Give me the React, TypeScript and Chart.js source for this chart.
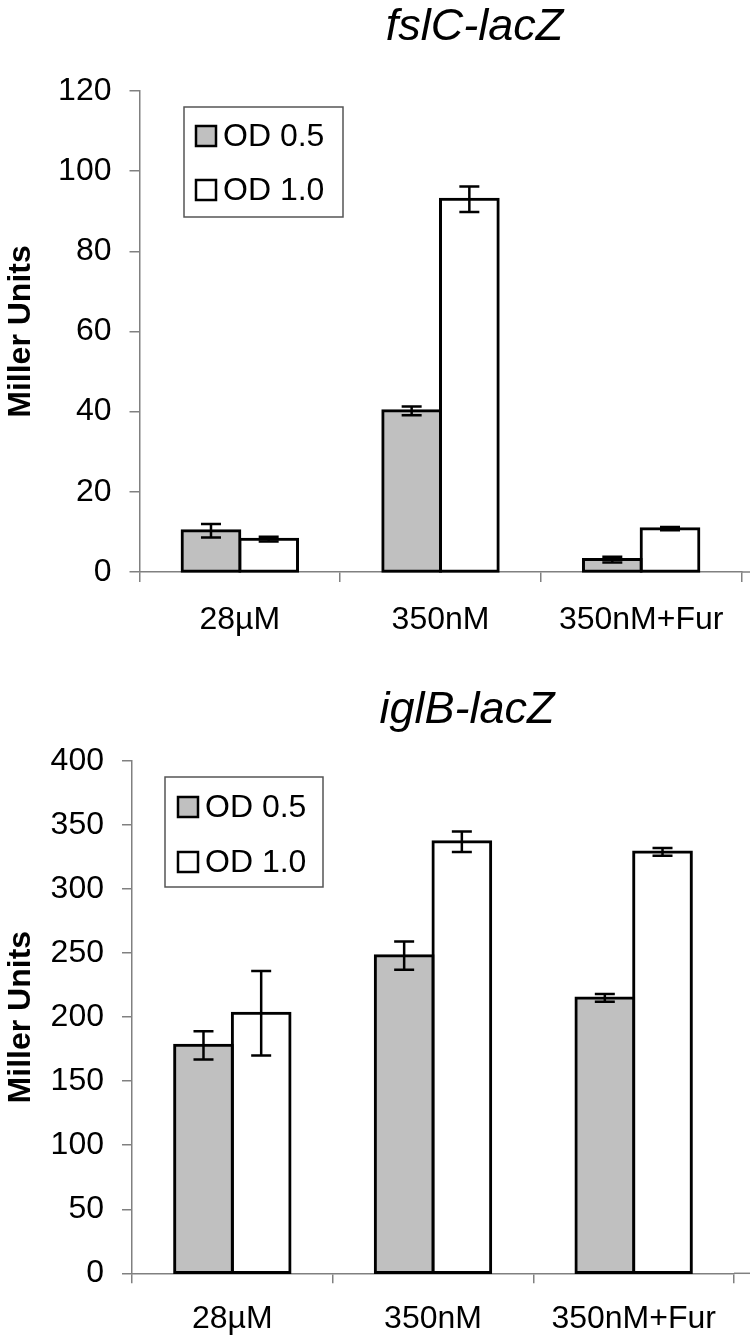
import React, { useEffect, useRef } from "react";
import { Chart, registerables } from "chart.js";

Chart.register(...registerables);

// ---- data ----
const categories = ["28µM", "350nM", "350nM+Fur"];
const seriesLabels = ["OD 0.5", "OD 1.0"];
const yAxisTitle = "Miller Units";

const fslcTitle = "fslC-lacZ";
const fslcOD05 = [10.3, 40.2, 3.1];
const fslcOD05Err = [1.7, 1.1, 0.7];
const fslcOD10 = [8.2, 93.0, 10.8];
const fslcOD10Err = [0.6, 3.2, 0.4];
const fslcYMax = 120;
const fslcYStep = 20;

const iglbTitle = "iglB-lacZ";
const iglbOD05 = [178, 248, 215];
const iglbOD05Err = [11, 11, 3];
const iglbOD10 = [203, 337, 329];
const iglbOD10Err = [33, 8, 3];
const iglbYMax = 400;
const iglbYStep = 50;

// ---- styles ----
const FONT = "'Liberation Sans', Arial, sans-serif";
const GREY = "#c0c0c0";
const AXIS = "#808080";

const errorBarPlugin = {
  id: "errorBars",
  afterDatasetsDraw(chart: any) {
    const ctx = chart.ctx;
    const y = chart.scales.y;
    ctx.save();
    ctx.strokeStyle = "#000";
    ctx.lineWidth = 2.5;
    chart.data.datasets.forEach((ds: any, i: number) => {
      const meta = chart.getDatasetMeta(i);
      meta.data.forEach((el: any, j: number) => {
        const v = ds.data[j];
        const e = ds.errors[j];
        const yt = y.getPixelForValue(v + e);
        const yb = y.getPixelForValue(v - e);
        const x = el.x;
        const cap = 10;
        ctx.beginPath();
        ctx.moveTo(x, yt);
        ctx.lineTo(x, yb);
        ctx.moveTo(x - cap, yt);
        ctx.lineTo(x + cap, yt);
        ctx.moveTo(x - cap, yb);
        ctx.lineTo(x + cap, yb);
        ctx.stroke();
      });
    });
    ctx.restore();
  },
};

const axisExtendPlugin = {
  id: "axisExtend",
  beforeDatasetsDraw(chart: any) {
    const ctx = chart.ctx;
    const ca = chart.chartArea;
    ctx.save();
    ctx.strokeStyle = AXIS;
    ctx.lineWidth = 1.5;
    ctx.beginPath();
    ctx.moveTo(ca.right, ca.bottom);
    ctx.lineTo(chart.width, ca.bottom);
    ctx.stroke();
    ctx.restore();
  },
};

const boxLegendPlugin = {
  id: "boxLegend",
  afterDraw(chart: any, _args: any, opts: any) {
    const ctx = chart.ctx;
    const ca = chart.chartArea;
    const bx = ca.left + opts.dx;
    const by = ca.top + opts.dy;
    ctx.save();
    ctx.fillStyle = "#fff";
    ctx.fillRect(bx, by, opts.w, opts.h);
    ctx.strokeStyle = "#555";
    ctx.lineWidth = 1.5;
    ctx.strokeRect(bx, by, opts.w, opts.h);
    chart.data.datasets.forEach((ds: any, i: number) => {
      const cy = by + opts.rows[i];
      const sx = bx + opts.sx;
      ctx.fillStyle = ds.backgroundColor;
      ctx.fillRect(sx, cy - 10, 20, 20);
      ctx.strokeStyle = "#000";
      ctx.lineWidth = 2.5;
      ctx.strokeRect(sx, cy - 10, 20, 20);
      ctx.fillStyle = "#000";
      ctx.font = `32px ${FONT}`;
      ctx.textAlign = "left";
      ctx.textBaseline = "middle";
      ctx.fillText(ds.label, sx + 27, cy + 1);
    });
    ctx.restore();
  },
};

const titlePlugin = {
  id: "sideTitle",
  afterDraw(chart: any, _args: any, opts: any) {
    const ctx = chart.ctx;
    const ca = chart.chartArea;
    ctx.save();
    ctx.fillStyle = "#000";
    ctx.font = `italic 45px ${FONT}`;
    ctx.textAlign = "center";
    ctx.textBaseline = "alphabetic";
    ctx.fillText(opts.text, (ca.left + ca.right) / 2 + opts.dx, ca.top - opts.gap);
    ctx.restore();
  },
};

function makeConfig(p: any): any {
  const barStyle = {
    borderColor: "#000",
    borderWidth: 3,
    borderSkipped: false,
    inflateAmount: 1.5,
    clip: false,
  };
  return {
    type: "bar",
    data: {
      labels: categories,
      datasets: [
        { label: seriesLabels[0], data: p.a, errors: p.aErr, backgroundColor: GREY, ...barStyle },
        { label: seriesLabels[1], data: p.b, errors: p.bErr, backgroundColor: "#ffffff", ...barStyle },
      ],
    },
    options: {
      responsive: false,
      animation: false,
      devicePixelRatio: 1,
      layout: { padding: { top: p.top, right: p.right, left: 0, bottom: 0 } },
      datasets: { bar: { categoryPercentage: 0.575, barPercentage: 1 } },
      plugins: {
        legend: { display: false },
        title: { display: false },
        tooltip: { enabled: false },
        boxLegend: p.legend,
        sideTitle: { text: p.title, dx: 34, gap: p.titleGap },
      },
      scales: {
        x: {
          grid: {
            offset: true,
            drawOnChartArea: false,
            drawTicks: true,
            tickLength: 10,
            color: AXIS,
            lineWidth: 1.5,
          },
          border: { color: AXIS, width: 1.5 },
          ticks: {
            font: { family: FONT, size: 32 },
            color: "#000",
            padding: p.xPad,
            maxRotation: 0,
            autoSkip: false,
          },
          afterFit: (s: any) => {
            s.height = p.xh;
          },
        },
        y: {
          min: 0,
          max: p.yMax,
          ticks: {
            stepSize: p.yStep,
            font: { family: FONT, size: 32 },
            color: "#000",
            padding: 18,
          },
          grid: {
            drawOnChartArea: false,
            drawTicks: true,
            tickLength: 10,
            color: AXIS,
            lineWidth: 1.5,
          },
          border: { color: AXIS, width: 1.5 },
          title: {
            display: true,
            text: yAxisTitle,
            font: { family: FONT, size: 32, weight: "bold" },
            color: "#000",
            padding: { top: 2, bottom: 0 },
          },
          afterFit: (s: any) => {
            s.width = p.left;
          },
        },
      },
    },
    plugins: [axisExtendPlugin, errorBarPlugin, boxLegendPlugin, titlePlugin],
  };
}

function BarPanel({ cfg, width, height }: { cfg: any; width: number; height: number }) {
  const ref = useRef<HTMLCanvasElement | null>(null);
  useEffect(() => {
    if (!ref.current) return;
    const chart = new Chart(ref.current, makeConfig(cfg));
    return () => chart.destroy();
  }, []);
  return <canvas ref={ref} width={width} height={height} style={{ display: "block", width, height }} />;
}

export default function App() {
  const top = {
    a: fslcOD05,
    aErr: fslcOD05Err,
    b: fslcOD10,
    bErr: fslcOD10Err,
    yMax: fslcYMax,
    yStep: fslcYStep,
    title: fslcTitle,
    titleGap: 51,
    top: 91,
    right: 8.5,
    left: 139.5,
    xh: 78,
    xPad: 19,
    legend: { dx: 44.5, dy: 16, w: 159, h: 110, sx: 12, rows: [29, 83] },
  };
  const bottom = {
    a: iglbOD05,
    aErr: iglbOD05Err,
    b: iglbOD10,
    bErr: iglbOD10Err,
    yMax: iglbYMax,
    yStep: iglbYStep,
    title: iglbTitle,
    titleGap: 38,
    top: 111,
    right: 16,
    left: 132,
    xh: 66.7,
    xPad: 17,
    legend: { dx: 33, dy: 16, w: 158, h: 110, sx: 13, rows: [30, 85] },
  };
  return (
    <div style={{ position: "absolute", left: 0, top: 0, width: 750, height: 1340, background: "#fff" }}>
      <BarPanel cfg={top} width={750} height={650} />
      <BarPanel cfg={bottom} width={750} height={690} />
    </div>
  );
}
